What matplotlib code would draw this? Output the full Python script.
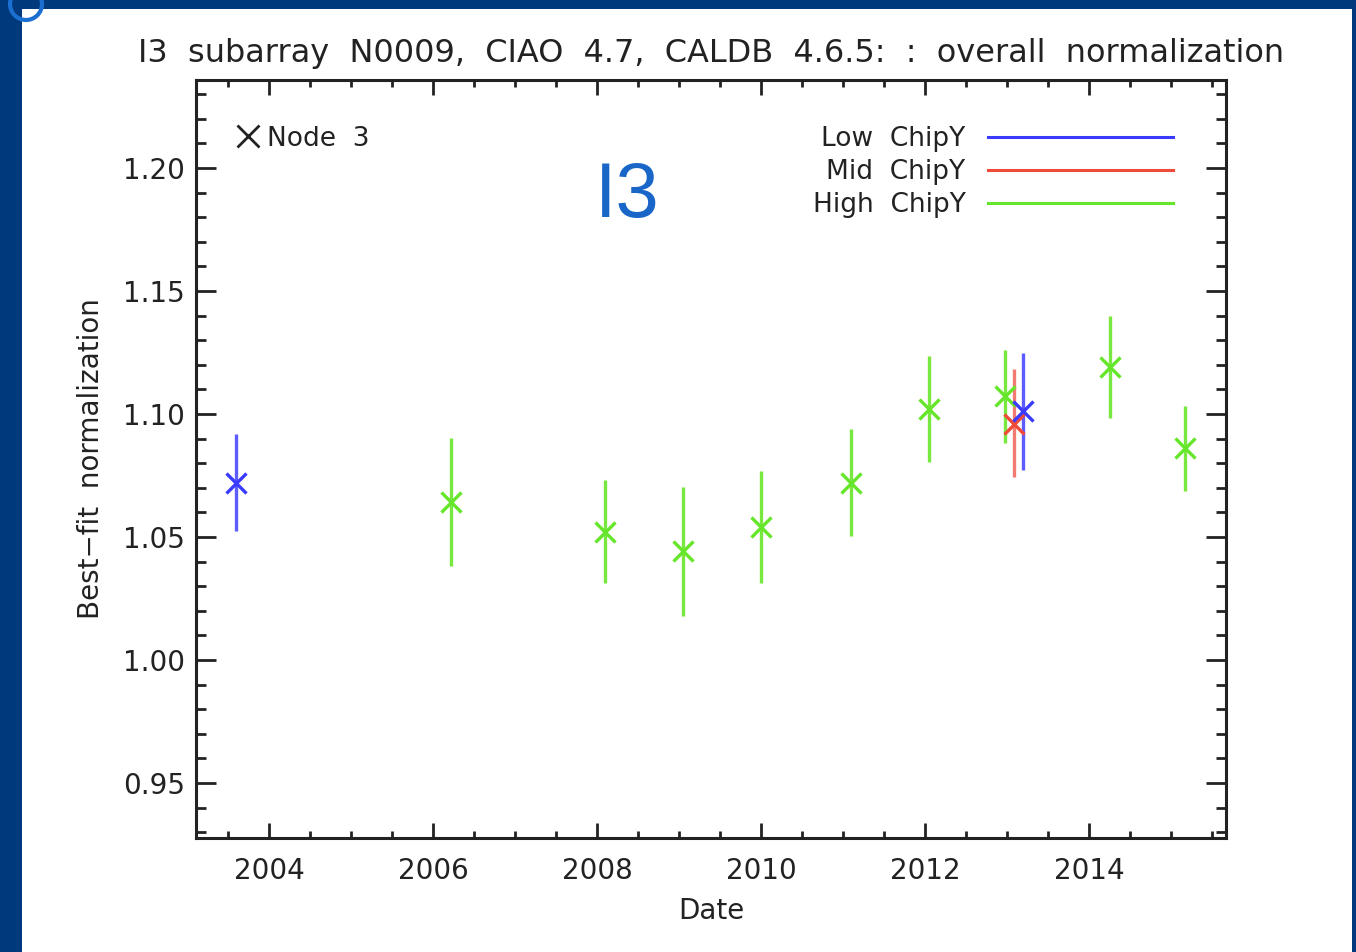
import matplotlib.pyplot as plt
from matplotlib.patches import Circle, Rectangle

# data: year, value, error bar top, error bar bottom
low_x = [2003.6, 2013.2]
low_y = [1.0720, 1.1013]
low_hi = [1.0919, 1.1249]
low_lo = [1.0524, 1.0772]

mid_x = [2013.09]
mid_y = [1.0959]
mid_hi = [1.1182]
mid_lo = [1.0744]

high_x = [2006.22, 2008.1, 2009.05, 2010.0, 2011.1, 2012.05, 2012.98, 2014.26, 2015.17]
high_y = [1.0642, 1.0520, 1.0443, 1.0541, 1.0720, 1.1020, 1.1073, 1.1192, 1.0863]
high_hi = [1.0902, 1.0732, 1.0703, 1.0768, 1.0939, 1.1236, 1.1260, 1.1398, 1.1033]
high_lo = [1.0382, 1.0313, 1.0179, 1.0313, 1.0504, 1.0805, 1.0882, 1.0984, 1.0687]

x_ticks = [2004, 2006, 2008, 2010, 2012, 2014]
y_ticks = [0.95, 1.00, 1.05, 1.10, 1.15, 1.20]
series_names = ['Low  ChipY', 'Mid  ChipY', 'High  ChipY']
series_cols = ['#3b3bff', '#f04a3a', '#66e62a']
bar_cols = ['#5c5cff', '#f27a70', '#78e840']

navy = '#013a7c'
ink = '#222222'

plt.rcParams['font.family'] = ['DejaVu Sans']

W, H = 1356, 952
fig = plt.figure(figsize=(W / 100, H / 100), dpi=100)
fig.patch.set_facecolor(navy)
# white page inside the navy frame
fig.patches.append(Rectangle((22 / W, 0), (1352 - 22) / W, (H - 9) / H,
                             transform=fig.transFigure, facecolor='white',
                             edgecolor='none', zorder=-10))
fig.patches.append(Circle((0.26, 9.48), 0.16, transform=fig.dpi_scale_trans,
                          facecolor='none', edgecolor='#1a6fd0', lw=3, zorder=5))

ax = fig.add_axes([196 / W, 1 - 838 / H, (1226 - 196) / W, (838 - 80) / H])


def draw(xs, ys, hi, lo, col, ecol):
    err = [[y - l for y, l in zip(ys, lo)], [h - y for y, h in zip(ys, hi)]]
    ax.errorbar(xs, ys, yerr=err, fmt='x', color=col, ecolor=ecol,
                elinewidth=2.4, capsize=0, markersize=15, mew=2.4)


draw(high_x, high_y, high_hi, high_lo, series_cols[2], bar_cols[2])
draw(mid_x, mid_y, mid_hi, mid_lo, series_cols[1], bar_cols[1])
draw(low_x, low_y, low_hi, low_lo, series_cols[0], bar_cols[0])

ax.set_xlim(2003.11, 2015.67)
ax.set_ylim(0.9276, 1.2358)
ax.set_xticks(x_ticks)
ax.set_xticks([x / 2 for x in range(4007, 4032)], minor=True)
ax.set_yticks(y_ticks)
ax.set_yticks([y / 100 for y in range(93, 124)], minor=True)
ax.set_yticklabels(['%.2f' % v for v in y_ticks])
ax.set_xticklabels([str(v) for v in x_ticks])

ax.tick_params(axis='both', which='both', direction='in', top=True, right=True,
               colors=ink, labelsize=20, width=2)
ax.tick_params(axis='y', which='major', length=14.5, pad=8)
ax.tick_params(axis='y', which='minor', length=7)
ax.tick_params(axis='x', which='major', length=10.5, pad=14)
ax.tick_params(axis='x', which='minor', length=5)
for s in ax.spines.values():
    s.set_linewidth(2.2)
    s.set_color(ink)

ax.set_title('I3  subarray  N0009,  CIAO  4.7,  CALDB  4.6.5:  :  overall  normalization',
             fontsize=23, color=ink, pad=13)
ax.set_xlabel('Date', fontsize=20, color=ink, labelpad=8)
ax.set_ylabel('Best\u2212fit  normalization', fontsize=20, color=ink, labelpad=13)

# node marker and label
ax.plot([0.05], [0.926], transform=ax.transAxes, marker='x', color=ink,
        markersize=16, mew=2, clip_on=False)
ax.text(0.069, 0.922, 'Node  3', transform=ax.transAxes, fontsize=19,
        color=ink, va='center')

# legend drawn by hand, text right of the lines
for i, (name, col) in enumerate(zip(series_names, series_cols)):
    yy = 0.9248 - i * 0.0435
    ax.plot([0.769, 0.949], [yy, yy], transform=ax.transAxes, color=col, lw=2.2)
    ax.text(0.747, yy - 0.003, name, transform=ax.transAxes, fontsize=19,
            color=ink, ha='right', va='center')

fig.text(627 / W, 1 - 197 / H, 'I3', fontsize=56, color='#1a66c8',
         ha='center', va='center', family='Liberation Sans')

fig.savefig('out.png', dpi=100, facecolor=navy)
